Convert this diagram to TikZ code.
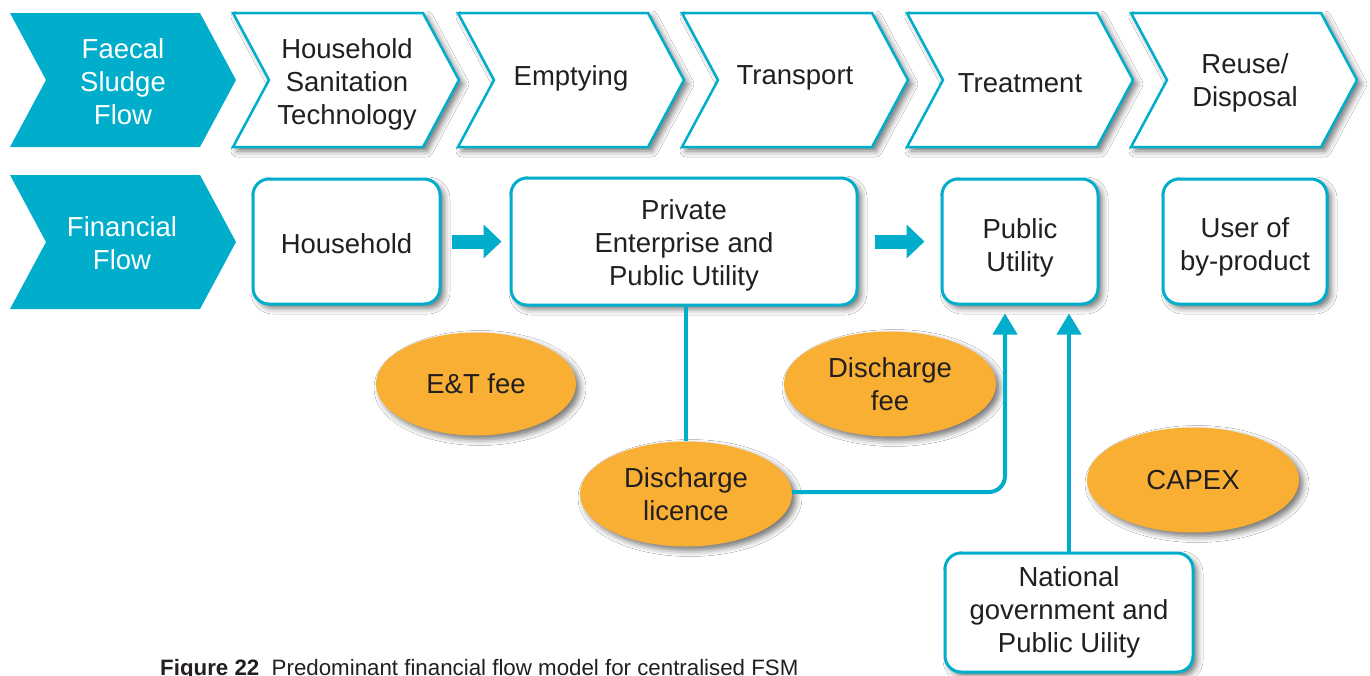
\documentclass[tikz,border=0pt]{standalone}
\usepackage{fontspec}
\setmainfont{Liberation Sans}
\usetikzlibrary{shapes.geometric,arrows.meta,shadows.blur}
\definecolor{fsmcyan}{HTML}{00AECB}
\definecolor{fsmorange}{HTML}{F8AF33}
\definecolor{fsmtext}{HTML}{231F20}
\newcommand{\chevronpath}[3]{\path[#3] (#1,#2) -- ++(190,0) -- ++(36,67) -- ++(-36,67) -- ++(-190,0) -- ++(36,-67) -- cycle;}
\begin{document}
\begin{tikzpicture}[x=1pt,y=-1pt,
  softshadow/.style={blur shadow={shadow xshift=4pt,shadow yshift=-4pt,shadow blur radius=6pt,shadow opacity=55}},
  chevfill/.style={fill=fsmcyan,draw=none},
  chevwhite/.style={fill=white,draw=fsmcyan,line width=2.5pt,softshadow},
  lbl/.style={align=center,text=fsmtext,font=\fontsize{27.5}{33}\selectfont,inner sep=0pt},
  wlbl/.style={lbl,text=white},
  box/.style={rectangle,rounded corners=16pt,draw=fsmcyan,line width=3pt,fill=white,softshadow,
    minimum height=125pt,inner sep=0pt},
  boxtext/.style={label={[lbl,yshift=-#1]center:{}}},
  fee/.style={ellipse,fill=fsmorange,draw=none,softshadow,minimum width=212pt,minimum height=105pt,
    inner sep=0pt,align=center,text=fsmtext,font=\fontsize{27.5}{33}\selectfont},
  link/.style={draw=fsmcyan,line width=4pt},
  tipend/.style={-{Triangle[length=21pt,width=24pt]}},
  bigarrow/.style={draw=fsmcyan,line width=14pt,-{Triangle[length=18pt,width=33pt]}}
]
\useasboundingbox[fill=white] (0,0) rectangle (1370,675);

% top row chevrons
\chevronpath{10}{13}{chevfill}
\chevronpath{233}{13}{chevwhite}
\chevronpath{458}{13}{chevwhite}
\chevronpath{682}{13}{chevwhite}
\chevronpath{907}{13}{chevwhite}
\chevronpath{1131}{13}{chevwhite}
% second row chevron
\chevronpath{10}{175}{chevfill}

\node[wlbl] (fsf) at (123,82) {Faecal\\Sludge\\Flow};
\node[wlbl] (ff) at (122,243) {Financial\\Flow};
\node[lbl] (hst) at (347,84) {Household\\Sanitation\\Technology};
\node[lbl] (emp) at (571,78) {Emptying};
\node[lbl] (tra) at (795,78) {Transport};
\node[lbl] (tre) at (1020,83) {Treatment};
\node[lbl] (reu) at (1245,83) {Reuse/\\Disposal};

% boxes
\node[box,minimum width=187pt,label={[lbl,yshift=-2pt]center:Household}] (hh) at (346.5,241.5) {};
\node[box,minimum width=346pt,minimum height=127pt,label={[lbl,yshift=-4pt]center:{Private\\Enterprise and\\Public Utility}}] (pe) at (684,241.5) {};
\node[box,minimum width=156pt,label={[lbl,yshift=-6pt]center:{Public\\Utility}}] (pu) at (1020,241.5) {};
\node[box,minimum width=164pt,label={[lbl,yshift=-5pt]center:{User of\\by-product}}] (ub) at (1245,241.5) {};
\node[box,minimum width=248pt,minimum height=119pt,label={[lbl]center:{National\\government and\\Public Uility}}] (ng) at (1069,612.5) {};

% fee ellipses
\node[fee,minimum width=200pt,minimum height=103pt] (et) at (476,384) {E\&T fee};
\node[fee] (df) at (890,384) {Discharge\\fee};
\node[fee] (dl) at (686,494) {Discharge\\licence};
\node[fee] (cx) at (1193,480) {CAPEX};

% block arrows
\draw[bigarrow] ([xshift=10pt]hh.east) -- ([xshift=-8pt]pe.west);
\draw[bigarrow] ([xshift=16pt]pe.east) -- ([xshift=-16pt]pu.west);

% connectors
\draw[link] (dl.north) -- (dl.north |- pe.south);
\draw[link,tipend,rounded corners=16pt,shorten >=8pt] ([yshift=2pt]dl.east) -| ([xshift=-15pt]pu.south);
\draw[link,tipend,shorten >=8pt] (ng.north) -- (ng.north |- pu.south);

% caption
\node[anchor=base west,text=fsmtext,font=\fontsize{22.3}{26}\selectfont,inner sep=0pt] (cap) at (160,675.5)
  {\textbf{Figure 22}\ \ Predominant financial flow model for centralised FSM};
\end{tikzpicture}
\end{document}
